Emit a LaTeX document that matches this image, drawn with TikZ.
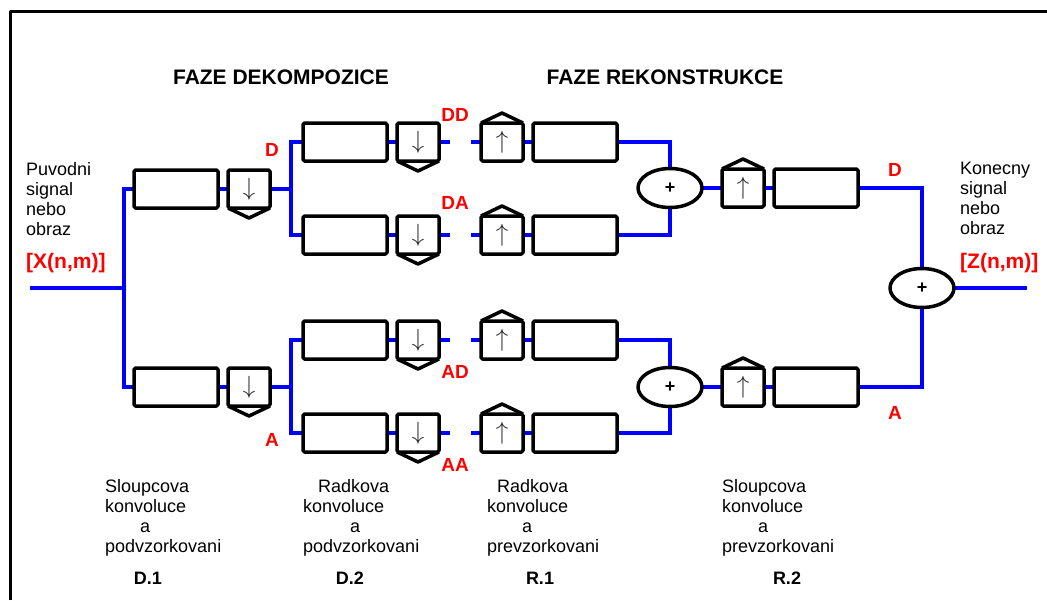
\documentclass[tikz,border=0pt]{standalone}
\usepackage{fontspec}
\setmainfont{Liberation Sans}
\usepackage{tikz}
\usetikzlibrary{positioning,calc,shapes.geometric}
\pgfdeclarelayer{background}
\pgfsetlayers{background,main}
\tikzset{
  waveletpic/.style={
    x=1pt,y=-1pt
    ,line join=round
  }
  ,filterbox/.style={draw=black,line width=3.5pt,rounded corners=1.5pt
    ,minimum width=84pt,minimum height=38pt
    ,inner sep=0pt,outer sep=0pt}
  ,sampler/.style={filterbox,minimum width=42pt,text=black!85
    ,font=\fontsize{24}{24}\selectfont}
  ,summer/.style={ellipse,draw=black,line width=3.5pt
    ,minimum width=64pt,minimum height=39pt
    ,inner sep=0pt,outer sep=0pt
    ,font=\bfseries\fontsize{18}{18}\selectfont}
  ,wire/.style={draw=blue,line width=3.2pt,line join=miter}
  ,bandname/.style={text=red,inner sep=0pt
    ,font=\bfseries\fontsize{19}{19}\selectfont}
  ,signame/.style={text=red,inner sep=0pt,anchor=west
    ,font=\bfseries\fontsize{21}{21}\selectfont}
  ,phase/.style={inner sep=0pt
    ,font=\bfseries\fontsize{21}{21}\selectfont}
  ,note/.style={align=left,inner sep=0pt,anchor=north west
    ,font=\fontsize{18}{20}\selectfont}
  ,stage/.style={inner sep=0pt
    ,font=\bfseries\fontsize{18}{18}\selectfont}
}
\newcommand\downsampler[2]{
\node[sampler,#2] (#1) {$\downarrow$};
\draw[line width=3.5pt] (#1.south west) -- ($(#1.south)+(0,10)$) -- (#1.south east);
}
\newcommand\upsampler[2]{
\node[sampler,#2] (#1) {$\uparrow$};
\draw[line width=3.5pt] (#1.north west) -- ($(#1.north)+(0,-10)$) -- (#1.north east);
}

\begin{document}
\begin{tikzpicture}[waveletpic]
  \useasboundingbox (0,0) rectangle (1047,600);
  % frame
  \draw[line width=3pt] (10,600) -- (10,11) -- (1047,11);
  % headings
  \node[phase] (dekomp) at (281,77) {FAZE DEKOMPOZICE};
  \node[phase] (rekon) at (665,77) {FAZE REKONSTRUKCE};
  % input and output
  \node[note] (puvodni) at (26,162) {Puvodni\\signal\\nebo\\obraz};
  \node[signame] (xin) at (26,263) {[X(n,m)]};
  \node[note] (konecny) at (960,162) {Konecny\\signal\\nebo\\obraz};
  \node[signame] (zout) at (960,263) {[Z(n,m)]};
  \coordinate (xstart) at (30,288);
  \coordinate (fork0) at (124,288);
  \coordinate (zend) at (1027,288);
  % D.1
  \node[filterbox] (cold) at (176,189) {};
  \downsampler{downd}{right=10pt of cold}
  \node[filterbox] (cola) at (176,387) {};
  \downsampler{downa}{right=10pt of cola}
  \coordinate (forkd) at (291,189);
  \coordinate (forka) at (291,387);
  % D.2
  \node[filterbox] (rowdd) at (345,142) {};
  \downsampler{downdd}{right=10pt of rowdd}
  \node[filterbox] (rowda) at (345,235) {};
  \downsampler{downda}{right=10pt of rowda}
  \node[filterbox] (rowad) at (345,340) {};
  \downsampler{downad}{right=10pt of rowad}
  \node[filterbox] (rowaa) at (345,433) {};
  \downsampler{downaa}{right=10pt of rowaa}
  % R.1
  \upsampler{updd}{right=42pt of downdd}
  \node[filterbox,right=10pt of updd] (recdd) {};
  \upsampler{upda}{right=42pt of downda}
  \node[filterbox,right=10pt of upda] (recda) {};
  \upsampler{upad}{right=42pt of downad}
  \node[filterbox,right=10pt of upad] (recad) {};
  \upsampler{upaa}{right=42pt of downaa}
  \node[filterbox,right=10pt of upaa] (recaa) {};
  \node[summer] (sumd) at (670,188) {+};
  \node[summer] (suma) at (670,387) {+};
  % R.2
  \upsampler{upd}{right=20pt of sumd}
  \node[filterbox,right=10pt of upd] (recd) {};
  \upsampler{upa}{right=20pt of suma}
  \node[filterbox,right=10pt of upa] (reca) {};
  \node[summer] (sumz) at (922,288) {+};
  % band labels
  \node[bandname] (lbld) at (272,150) {D};
  \node[bandname] (lbla) at (272,440) {A};
  \node[bandname] (lbldd) at (455,115) {DD};
  \node[bandname] (lblda) at (455,203) {DA};
  \node[bandname] (lblad) at (455,372) {AD};
  \node[bandname] (lblaa) at (455,465) {AA};
  \node[bandname] (lblrd) at (895,170) {D};
  \node[bandname] (lblra) at (895,413) {A};
  % stage notes
  \node[note] (notea) at (105,479) {Sloupcova\\konvoluce\\\hspace*{35pt}a\\podvzorkovani};
  \node[note] (noteb) at (303,479) {\hspace*{15pt}Radkova\\konvoluce\\\hspace*{47pt}a\\podvzorkovani};
  \node[note] (notec) at (487,479) {\hspace*{10pt}Radkova\\konvoluce\\\hspace*{35pt}a\\prevzorkovani};
  \node[note] (noted) at (722,479) {Sloupcova\\konvoluce\\\hspace*{36pt}a\\prevzorkovani};
  \node[stage] (stdi) at (148,578) {D.1};
  \node[stage] (stdii) at (350,578) {D.2};
  \node[stage] (stri) at (540,578) {R.1};
  \node[stage] (strii) at (787,578) {R.2};
  % wires
  \begin{pgfonlayer}{background}
    \draw[wire] (xstart) -- (fork0);
    \draw[wire] (cold.west) -| (fork0) |- (cola.west);
    \draw[wire] (cold.east) -- (downd.west);
    \draw[wire] (cola.east) -- (downa.west);
    \draw[wire] (downd.east) -- (forkd);
    \draw[wire] (downa.east) -- (forka);
    \draw[wire] (rowdd.west) -| (forkd) |- (rowda.west);
    \draw[wire] (rowad.west) -| (forka) |- (rowaa.west);
    \foreach \b in {dd,da,ad,aa}{
      \draw[wire] (row\b.east) -- (down\b.west);
      \draw[wire] (down\b.east) -- ++(11,0) coordinate (out\b);
      \draw[wire] (up\b.west) -- ++(-10,0) coordinate (in\b);
      \draw[wire] (up\b.east) -- (rec\b.west);
    }
    \draw[wire] (recdd.east) -| (sumd.north);
    \draw[wire] (recda.east) -| (sumd.south);
    \draw[wire] (recad.east) -| (suma.north);
    \draw[wire] (recaa.east) -| (suma.south);
    \draw[wire] (sumd.east) -- (upd.west);
    \draw[wire] (suma.east) -- (upa.west);
    \draw[wire] (upd.east) -- (recd.west);
    \draw[wire] (upa.east) -- (reca.west);
    \draw[wire] (recd.east) -| (sumz.north);
    \draw[wire] (reca.east) -| (sumz.south);
    \draw[wire] (sumz.east) -- (zend);
  \end{pgfonlayer}
\end{tikzpicture}
\end{document}
